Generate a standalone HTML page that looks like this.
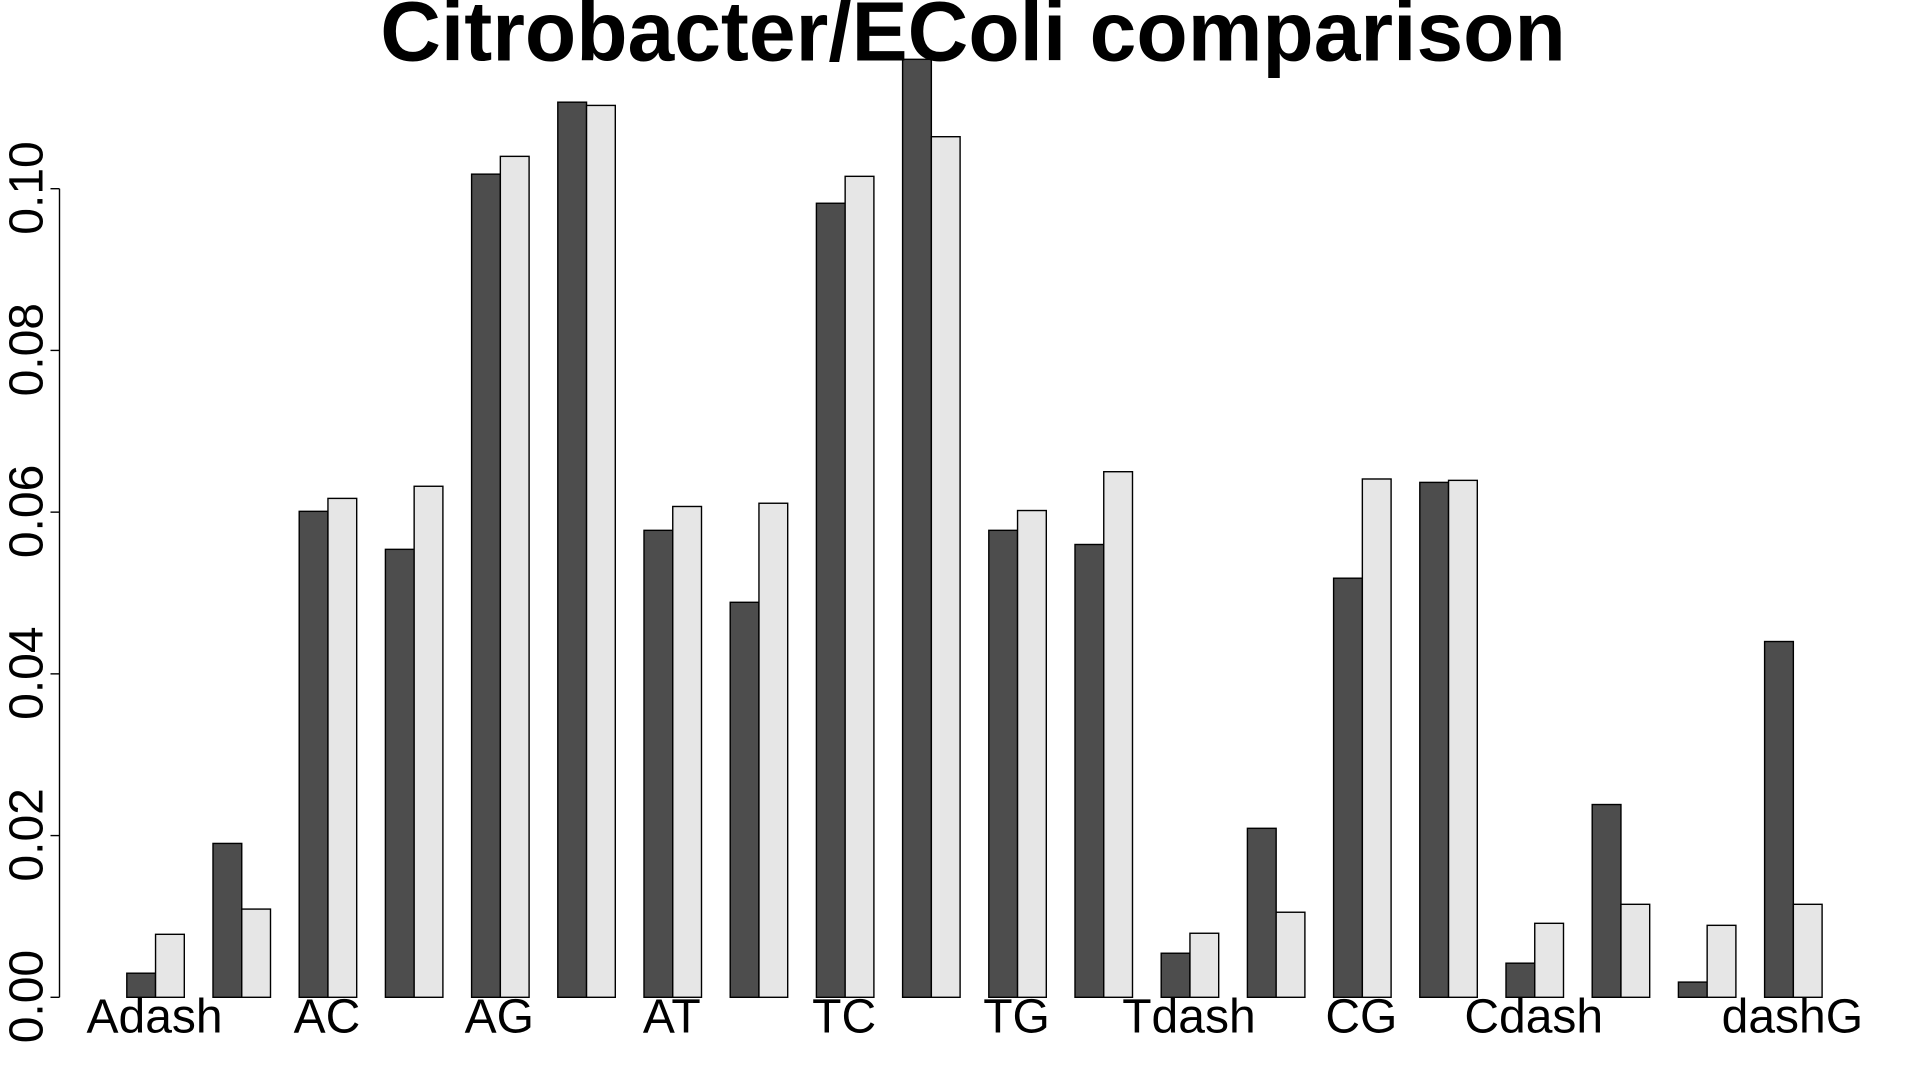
<!DOCTYPE html>
<html lang="en">
<head>
<meta charset="utf-8">
<title>Citrobacter/EColi comparison</title>
<style>
html,body{margin:0;padding:0;background:#fff;width:1920px;height:1080px;overflow:hidden}
svg{display:block;position:absolute;left:0;top:0}
text{font-family:"Liberation Sans",Arial,sans-serif;fill:#000}
</style>
</head>
<body>
<svg id="chart" xmlns="http://www.w3.org/2000/svg" width="1920" height="1080" viewBox="0 0 1920 1080">
  <rect x="0" y="0" width="1920" height="1080" fill="#ffffff"/>
  <g id="bars"></g>
  <g id="y-axis"></g>
  <g id="x-labels"></g>
  <text x="973" y="60.5" font-size="84" font-weight="700" text-anchor="middle">Citrobacter/EColi comparison</text>
</svg>
<script>
const categoryLabels = ["Adash","","AC","","AG","","AT","","TC","","TG","","Tdash","","CG","","Cdash","","","dashG"];
const citrobacterValues = [0.00298,0.01903,0.0601,0.0554,0.1018,0.1107,0.05775,0.04885,0.0982,0.1160,0.05775,0.0560,0.00545,0.0209,0.05183,0.06368,0.00422,0.02384,0.00188,0.0440];
const ecoliValues = [0.00779,0.01091,0.0617,0.0632,0.1040,0.1103,0.0607,0.0611,0.10153,0.10643,0.0602,0.0650,0.00792,0.01052,0.0641,0.06393,0.00915,0.0115,0.0089,0.0115];
const yTickValues = [0,0.02,0.04,0.06,0.08,0.10];
const yTickLabels = ["0.00","0.02","0.04","0.06","0.08","0.10"];

const SVG_NS = "http://www.w3.org/2000/svg";
const Y_ZERO = 997.3;
const Y_PER_UNIT = 8086;
const X_START = 126.8;
const GROUP_STEP = 86.2;
const BAR_WIDTH = 28.75;
const AXIS_X = 59.5;
const TICK_LEN = 9;

function yScale(v) { return Y_ZERO - v * Y_PER_UNIT; }
function xScale(groupIndex, seriesIndex) { return X_START + groupIndex * GROUP_STEP + seriesIndex * BAR_WIDTH; }

function make(tag, attrs) {
  const el = document.createElementNS(SVG_NS, tag);
  for (const k in attrs) el.setAttribute(k, attrs[k]);
  return el;
}

const barsLayer = document.getElementById("bars");
const seriesList = [
  { key: "citrobacter", values: citrobacterValues, fill: "#4d4d4d" },
  { key: "ecoli", values: ecoliValues, fill: "#e6e6e6" }
];
seriesList.forEach(function (series, s) {
  series.values.forEach(function (v, i) {
    const top = yScale(v);
    const bar = make("rect", {
      x: xScale(i, s),
      y: top,
      width: BAR_WIDTH,
      height: yScale(0) - top,
      fill: series.fill,
      stroke: "#000",
      "stroke-width": 1.4
    });
    
    
    barsLayer.appendChild(bar);
  });
});

const axisLayer = document.getElementById("y-axis");
const axisLine = make("line", {
  x1: AXIS_X, x2: AXIS_X,
  y1: yScale(yTickValues[0]),
  y2: yScale(yTickValues[yTickValues.length - 1]),
  stroke: "#000", "stroke-width": 1.4
});


axisLayer.appendChild(axisLine);

yTickValues.forEach(function (v, i) {
  const y = yScale(v);
  const tick = make("line", {
    x1: AXIS_X - TICK_LEN, x2: AXIS_X,
    y1: y, y2: y,
    stroke: "#000", "stroke-width": 1.4
  });
  
  
  axisLayer.appendChild(tick);

  const label = make("text", {
    x: 0, y: 0,
    "font-size": 48,
    "text-anchor": "middle",
    transform: "translate(42.3 " + (y - 0.7) + ") rotate(-90)"
  });
  label.textContent = yTickLabels[i];
  
  
  axisLayer.appendChild(label);
});

const labelLayer = document.getElementById("x-labels");
categoryLabels.forEach(function (name, i) {
  if (!name) return;
  const label = make("text", {
    x: xScale(i, 1) - 1,
    y: 1032.7,
    "font-size": 48,
    "text-anchor": "middle"
  });
  label.textContent = name;
  
  
  labelLayer.appendChild(label);
});
</script>
</body>
</html>
